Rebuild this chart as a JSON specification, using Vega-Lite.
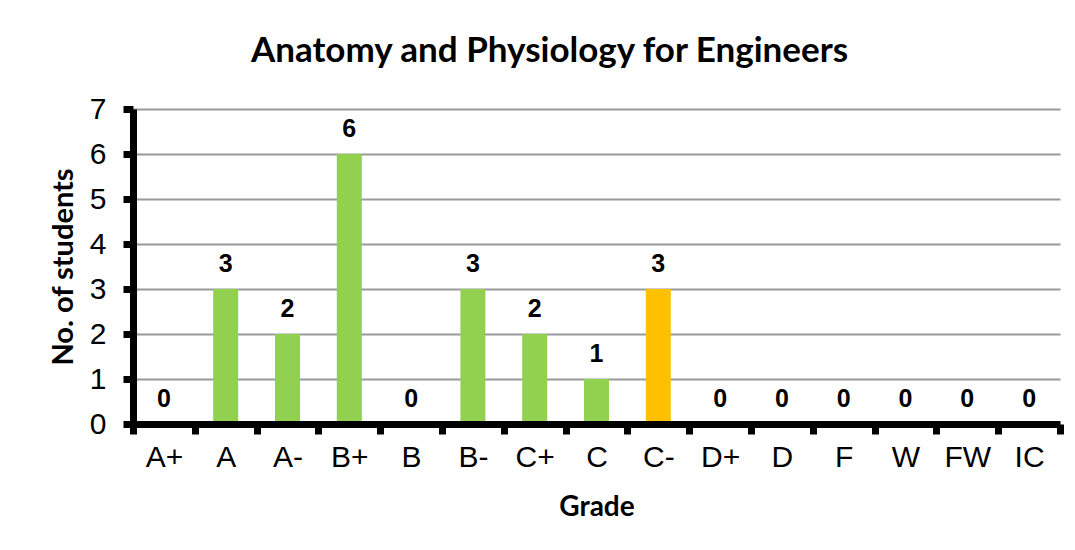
{
  "$schema": "https://vega.github.io/schema/vega-lite/v6.json",
  "width": 927,
  "height": 315,
  "autosize": "none",
  "padding": {"left": 133, "top": 109, "right": 15, "bottom": 126},
  "background": "white",
  "title": {
    "text": "Anatomy and Physiology for Engineers",
    "font": "Lato",
    "fontSize": 35,
    "fontWeight": "bold",
    "color": "black",
    "anchor": "middle",
    "frame": "group",
    "dx": -47,
    "offset": 25
  },
  "config": {"view": {"stroke": null}},
  "data": {
    "values": [
      {"grade": "A+", "count": 0},
      {"grade": "A", "count": 3},
      {"grade": "A-", "count": 2},
      {"grade": "B+", "count": 6},
      {"grade": "B", "count": 0},
      {"grade": "B-", "count": 3},
      {"grade": "C+", "count": 2},
      {"grade": "C", "count": 1},
      {"grade": "C-", "count": 3},
      {"grade": "D+", "count": 0},
      {"grade": "D", "count": 0},
      {"grade": "F", "count": 0},
      {"grade": "W", "count": 0},
      {"grade": "FW", "count": 0},
      {"grade": "IC", "count": 0}
    ]
  },
  "encoding": {
    "x": {
      "field": "grade",
      "type": "nominal",
      "sort": null,
      "scale": {"paddingInner": 0, "paddingOuter": 0},
      "axis": {
        "title": "Grade",
        "titleFont": "Lato",
        "titleFontSize": 28,
        "titleFontWeight": "bold",
        "titleColor": "black",
        "titlePadding": 21,
        "labelAngle": 0,
        "labelFont": "Liberation Sans",
        "labelFontSize": 30,
        "labelColor": "black",
        "labelPadding": 8,
        "tickBand": "extent",
        "domainColor": "black",
        "domainWidth": 7,
        "tickColor": "black",
        "tickWidth": 7,
        "tickSize": 10,
        "grid": false,
        "zindex": 1
      }
    },
    "y": {
      "field": "count",
      "type": "quantitative",
      "scale": {"domain": [0, 7], "nice": false},
      "axis": {
        "title": "No. of students",
        "titleFont": "Lato",
        "titleFontSize": 29,
        "titleFontWeight": "bold",
        "titleColor": "black",
        "titlePadding": 11,
        "values": [0, 1, 2, 3, 4, 5, 6, 7],
        "labelFont": "Liberation Sans",
        "labelFontSize": 30,
        "labelColor": "black",
        "labelPadding": 17,
        "domainColor": "black",
        "domainWidth": 7,
        "tickColor": "black",
        "tickWidth": 7,
        "tickSize": 10,
        "grid": true,
        "gridColor": "#999999",
        "gridWidth": 2,
        "zindex": 0
      }
    }
  },
  "layer": [
    {
      "mark": {"type": "bar", "width": 25},
      "encoding": {
        "color": {
          "condition": {"test": "datum.grade === 'C-'", "value": "#FFC000"},
          "value": "#92D050"
        }
      }
    },
    {
      "mark": {
        "type": "text",
        "font": "Liberation Sans",
        "fontSize": 25,
        "fontWeight": "bold",
        "color": "black",
        "baseline": "alphabetic",
        "dy": -17
      },
      "encoding": {"text": {"field": "count", "type": "quantitative"}}
    }
  ]
}
